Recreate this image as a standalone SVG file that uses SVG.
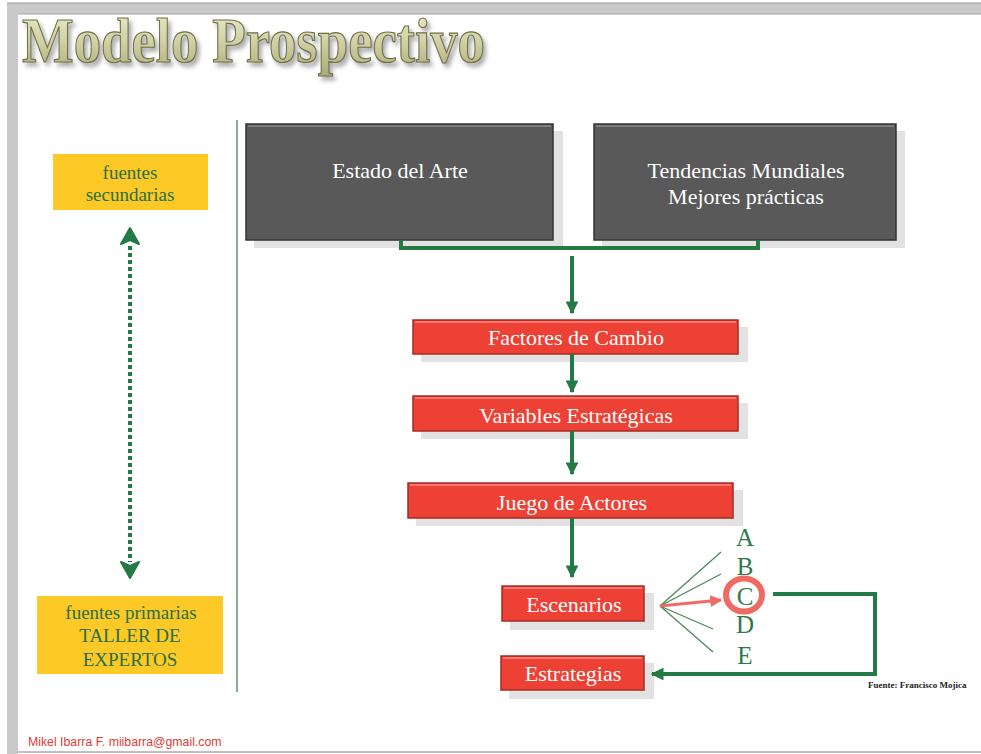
<svg xmlns="http://www.w3.org/2000/svg" width="981" height="754" viewBox="0 0 981 754">
<defs>
<style>
.serif{font-family:"Liberation Serif","Times New Roman",serif}
.wt{fill:#ffffff;font-size:22px;text-anchor:middle}
.gt{fill:#2a7040;font-size:19px;text-anchor:middle}
.shadow{fill:#e2e2e2}
.dark{fill:#595959;stroke:#333333;stroke-width:1.5}
.red{fill:#ee4136;stroke:#a82a22;stroke-width:1.5}
.hl{fill:none;stroke-width:1.5}
.conn{fill:none;stroke:#237a45;stroke-width:4}
.letter{fill:#2e7a48;font-size:25px;text-anchor:middle}
.fan{stroke:#4a8a5a;stroke-width:1.3}
</style>
<linearGradient id="tg" x1="0" y1="0" x2="0" y2="1">
<stop offset="0" stop-color="#ececcc"/>
<stop offset="0.5" stop-color="#d2d2a6"/>
<stop offset="1" stop-color="#a9a978"/>
</linearGradient>
<filter id="ds" x="-5%" y="-20%" width="110%" height="150%">
<feDropShadow dx="3" dy="4" stdDeviation="2" flood-color="#777777" flood-opacity="0.6"/>
</filter>
<marker id="ah" viewBox="0 0 10 10" refX="9" refY="5" markerWidth="3.2" markerHeight="3.2" orient="auto" markerUnits="strokeWidth">
<path d="M0,0 L10,5 L0,10 z" fill="#237a45"/>
</marker>
<marker id="rah" viewBox="0 0 10 10" refX="9" refY="5" markerWidth="4" markerHeight="4" orient="auto" markerUnits="strokeWidth">
<path d="M0,0 L10,5 L0,10 z" fill="#f06a64"/>
</marker>
</defs>
<rect x="0" y="0" width="981" height="754" fill="#ffffff"/>
<!-- frame -->
<rect x="7" y="3" width="974" height="11" fill="#c9c9c9"/>
<rect x="7" y="3" width="11" height="751" fill="#c9c9c9"/>
<line x1="7" y1="3" x2="981" y2="3" stroke="#9a9a9a" stroke-width="1.2"/>
<line x1="18" y1="14" x2="981" y2="14" stroke="#a8a8a8" stroke-width="1"/>
<line x1="18" y1="752" x2="981" y2="752" stroke="#c0c0c0" stroke-width="2"/>

<!-- title -->
<g id="title">
<text x="22" y="62" class="serif" font-size="64" font-weight="bold" textLength="463" lengthAdjust="spacingAndGlyphs" fill="url(#tg)" stroke="#6f6f48" stroke-width="1.2" filter="url(#ds)">Modelo Prospectivo</text>
</g>

<!-- divider -->
<line x1="237" y1="120" x2="237" y2="692" stroke="#4f7f5f" stroke-width="1.3"/>

<!-- left side -->
<g id="fuentes-secundarias">
<rect x="53" y="154" width="155" height="56" fill="#fdc927"/>
<text class="serif gt" x="130" y="179">fuentes</text>
<text class="serif gt" x="130" y="201">secundarias</text>
</g>
<g id="fuentes-primarias">
<rect x="37" y="596" width="186" height="78" fill="#fdc927"/>
<text class="serif gt" x="131" y="619">fuentes primarias</text>
<text class="serif gt" x="130" y="642" font-size="20">TALLER DE</text>
<text class="serif gt" x="130" y="666" font-size="20">EXPERTOS</text>
</g>

<!-- nodes -->
<g id="estado-del-arte">
<rect class="shadow" x="254" y="131" width="309" height="117"/>
<rect class="dark" x="246" y="124" width="307" height="116"/>
<line class="hl" x1="248" y1="126" x2="551" y2="126" stroke="#8a8a8a"/>
<text class="serif wt" x="400" y="178">Estado del Arte</text>
</g>
<g id="tendencias">
<rect class="shadow" x="602" y="131" width="303" height="117"/>
<rect class="dark" x="594" y="124" width="302" height="116"/>
<line class="hl" x1="596" y1="126" x2="894" y2="126" stroke="#8a8a8a"/>
<text class="serif wt" x="746" y="178">Tendencias Mundiales</text>
<text class="serif wt" x="746" y="204">Mejores prácticas</text>
</g>
<g id="factores">
<rect class="shadow" x="421" y="327" width="327" height="35"/>
<rect class="red" x="413" y="320" width="325" height="34"/>
<line class="hl" x1="415" y1="322" x2="736" y2="322" stroke="#f58d85"/>
<text class="serif wt" x="576" y="345">Factores de Cambio</text>
</g>
<g id="variables">
<rect class="shadow" x="421" y="403" width="327" height="36"/>
<rect class="red" x="413" y="396" width="325" height="35"/>
<line class="hl" x1="415" y1="398" x2="736" y2="398" stroke="#f58d85"/>
<text class="serif wt" x="576" y="423">Variables Estratégicas</text>
</g>
<g id="juego">
<rect class="shadow" x="416" y="490" width="327" height="36"/>
<rect class="red" x="408" y="483" width="325" height="35"/>
<line class="hl" x1="410" y1="485" x2="731" y2="485" stroke="#f58d85"/>
<text class="serif wt" x="572" y="510">Juego de Actores</text>
</g>
<g id="escenarios">
<rect class="shadow" x="510" y="593" width="144" height="37"/>
<rect class="red" x="502" y="586" width="142" height="35"/>
<line class="hl" x1="504" y1="588" x2="642" y2="588" stroke="#f58d85"/>
<text class="serif wt" x="574" y="612">Escenarios</text>
</g>
<g id="estrategias">
<rect class="shadow" x="509" y="663" width="145" height="36"/>
<rect class="red" x="501" y="656" width="143" height="34"/>
<line class="hl" x1="503" y1="658" x2="642" y2="658" stroke="#f58d85"/>
<text class="serif wt" x="573" y="681">Estrategias</text>
</g>
<g id="opciones">
<text class="serif letter" x="745" y="546">A</text>
<text class="serif letter" x="745" y="575">B</text>
<text class="serif letter" x="745" y="605">C</text>
<text class="serif letter" x="745" y="633">D</text>
<text class="serif letter" x="745" y="664">E</text>
<ellipse cx="744" cy="595" rx="18" ry="16.5" fill="none" stroke="#f06a64" stroke-width="6"/>
</g>
<g id="fuente">
<text x="868" y="688" class="serif" font-size="9" font-weight="bold" fill="#222222">Fuente: Francisco Mojica</text>
</g>
<g id="autor">
<text x="28" y="746" font-family="Liberation Sans, Arial, sans-serif" font-size="12.3" fill="#e03c36">Mikel Ibarra F. miibarra@gmail.com</text>
</g>

<!-- connectors -->
<g id="connectors">
<polyline class="conn" points="401,240 401,248 758,248 758,240"/>
<line class="conn" x1="572" y1="256" x2="572" y2="313" marker-end="url(#ah)"/>
<line class="conn" x1="572" y1="354" x2="572" y2="392" marker-end="url(#ah)"/>
<line class="conn" x1="572" y1="431" x2="572" y2="474" marker-end="url(#ah)"/>
<line class="conn" x1="572" y1="518" x2="572" y2="577" marker-end="url(#ah)"/>
<polyline class="conn" points="773,594 875,594 875,674 652,674" marker-end="url(#ah)"/>
<line class="fan" x1="660" y1="606" x2="721" y2="552"/>
<line class="fan" x1="660" y1="606" x2="721" y2="574"/>
<line class="fan" x1="660" y1="606" x2="713" y2="629"/>
<line class="fan" x1="660" y1="606" x2="713" y2="652"/>
<line x1="660" y1="606" x2="721" y2="600" stroke="#f06a64" stroke-width="3" marker-end="url(#rah)"/>
<line x1="130" y1="246" x2="130" y2="562" stroke="#237a45" stroke-width="4" stroke-dasharray="4,3"/>
<path d="M130,228 L139,244 L130,240 L121,244 Z" fill="#237a45" stroke="#237a45" stroke-width="2" stroke-linejoin="round"/>
<path d="M130,578 L139,562 L130,566 L121,562 Z" fill="#237a45" stroke="#237a45" stroke-width="2" stroke-linejoin="round"/>
</g>
</svg>
